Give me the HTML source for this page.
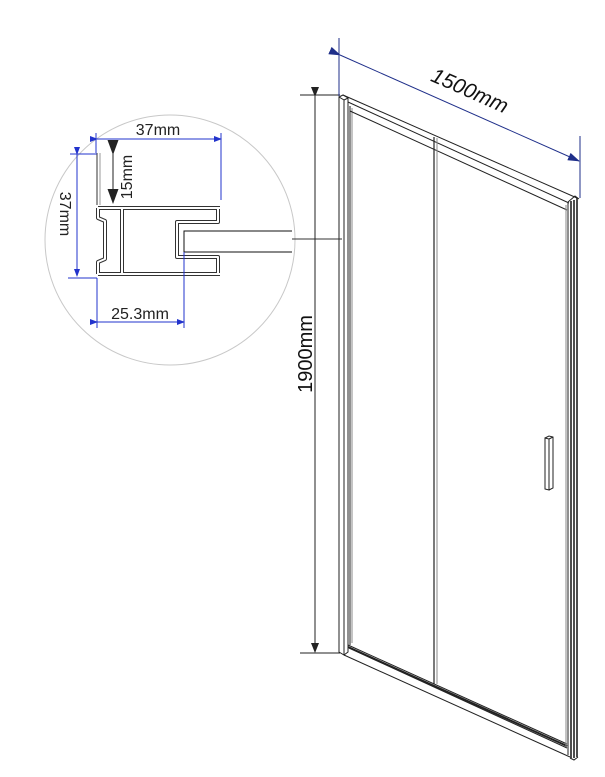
<!DOCTYPE html>
<html><head><meta charset="utf-8"><style>
html,body{margin:0;padding:0;background:#fff;}
svg{display:block;}
text{font-family:"Liberation Sans",Arial,sans-serif;}
</style></head><body>
<svg width="605" height="777" viewBox="0 0 605 777" xmlns="http://www.w3.org/2000/svg">
<defs>
<marker id="ab" markerWidth="12" markerHeight="8" refX="11" refY="4" orient="auto" markerUnits="userSpaceOnUse"><path d="M0,0 L12,4 L0,8z" fill="#1f2f8a"/></marker>
<marker id="ak" markerWidth="10" markerHeight="8" refX="9" refY="4" orient="auto" markerUnits="userSpaceOnUse"><path d="M0,0 L10,4 L0,8z" fill="#222"/></marker>
<marker id="ak2" markerWidth="15" markerHeight="11" refX="14" refY="5.5" orient="auto" markerUnits="userSpaceOnUse"><path d="M0,0 L15,5.5 L0,11z" fill="#222"/></marker>
<marker id="bl" markerWidth="8" markerHeight="6" refX="7" refY="3" orient="auto" markerUnits="userSpaceOnUse"><path d="M0,0 L8,3 L0,6z" fill="#2233cc"/></marker>
</defs>

<!-- circle detail -->
<circle cx="170" cy="240" r="125" fill="none" stroke="#c8c8c8" stroke-width="1"/>

<!-- profile -->
<path d="M97,153 L97,205" fill="none" stroke="#333" stroke-width="1"/>
<path d="M100,153 L100,205" fill="none" stroke="#999" stroke-width="1"/>
<g fill="none" stroke-linejoin="round">
<g stroke="#333" stroke-width="4">
<path d="M98,208 L220,208 M98,274 L220,274"/>
<path d="M98,208 L98,218 L105,221 L105,259 L98,262 L98,274"/>
<path d="M122,208 L122,274"/>
<path d="M218,208 L218,222 L177,222 L177,257 L218,257 L218,274"/>
</g>
<g stroke="#fff" stroke-width="2">
<path d="M98,208 L220,208 M98,274 L220,274"/>
<path d="M98,208 L98,218 L105,221 L105,259 L98,262 L98,274"/>
<path d="M122,208 L122,274"/>
<path d="M218,208 L218,222 L177,222 L177,257 L218,257 L218,274"/>
</g>
</g>
<g fill="none" stroke="#111" stroke-width="1">
<path d="M184,252 L184,231 L292,231 M184,252 L292,252"/>
<path d="M292,239 L342,239" stroke="#333"/>
</g>

<!-- detail dimensions -->
<g stroke="#2233cc" stroke-width="1" fill="none">
<line x1="97" y1="139" x2="221" y2="139" marker-start="url(#bl)" marker-end="url(#bl)"/>
<line x1="96" y1="133" x2="96" y2="153"/>
<line x1="221" y1="133" x2="221" y2="200"/>
<line x1="77" y1="154" x2="77" y2="276" marker-start="url(#bl)" marker-end="url(#bl)"/>
<line x1="70" y1="154" x2="97" y2="154"/>
<line x1="68" y1="278" x2="97" y2="278"/>
<line x1="97" y1="278" x2="97" y2="328"/>
<line x1="184" y1="252" x2="184" y2="328"/>
<line x1="97" y1="322" x2="184" y2="322" marker-start="url(#bl)" marker-end="url(#bl)"/>
</g>
<line x1="113" y1="154" x2="113" y2="203" stroke="#222" stroke-width="1" marker-start="url(#ak2)" marker-end="url(#ak2)"/>
<text x="158" y="135" font-size="16" text-anchor="middle" fill="#222">37mm</text>
<text x="140" y="319" font-size="16" text-anchor="middle" fill="#222">25.3mm</text>
<text transform="translate(60,214) rotate(90)" font-size="16" text-anchor="middle" fill="#222">37mm</text>
<text transform="translate(132,177) rotate(-90)" font-size="16" text-anchor="middle" fill="#222">15mm</text>

<!-- 1900 dimension -->
<g stroke="#222" stroke-width="1">
<line x1="300" y1="95" x2="340" y2="95"/>
<line x1="300" y1="653" x2="340" y2="653"/>
<line x1="315" y1="96" x2="315" y2="652" marker-start="url(#ak)" marker-end="url(#ak)"/>
</g>
<text transform="translate(312,354) rotate(-90)" font-size="20" text-anchor="middle" fill="#111">1900mm</text>

<!-- 1500 dimension -->
<g stroke="#1f2f8a" stroke-width="1">
<line x1="339" y1="38" x2="339" y2="96"/>
<line x1="580" y1="136" x2="580" y2="198"/>
<line x1="340" y1="55" x2="579" y2="161" marker-start="url(#ab)" marker-end="url(#ab)"/>
</g>
<text transform="translate(467,97) rotate(23.9)" font-size="21" font-style="italic" text-anchor="middle" fill="#111">1500mm</text>

<!-- door -->
<g fill="none" stroke="#222" stroke-width="1">
<path d="M339,97 L339,652 L344,655 L344,100 Z"/>
<path d="M344,100 L348,98 L348,652 L344,655"/>
<path d="M339,97 L343,95 L348,98"/>
<line x1="350" y1="106" x2="350" y2="645"/>
<line x1="352" y1="108" x2="352" y2="643" stroke="#888"/>
<path d="M343,95 L577,198 M348,102 L569,203 M350,111 L567,210"/>
<path d="M348,645 L567,744 M349,648 L567,748 M344,655 L570,757"/>
<path d="M348,647 L567,746" stroke-width="2"/>
<line x1="434" y1="137" x2="434" y2="684" stroke-width="1.2"/>
<line x1="437" y1="138" x2="437" y2="684" stroke="#888"/>
<line x1="566" y1="205" x2="566" y2="746" stroke="#888"/>
<line x1="568" y1="203" x2="568" y2="755"/>
<line x1="571" y1="201" x2="571" y2="758" stroke-width="1.6"/>
<line x1="574" y1="200" x2="574" y2="758" stroke-width="1.6"/>
<line x1="577" y1="198" x2="577" y2="757" stroke-width="1.6"/>
<path d="M568,202 L575,196 L579,199 M570,758 L574,760 L578,757"/>
<path d="M545,438 L545,489 L549,490 L549,439 Z M545,438 L549,436 L553,437 L553,488 L549,490 M549,439 L553,437"/>
</g>
</svg>
</body></html>
